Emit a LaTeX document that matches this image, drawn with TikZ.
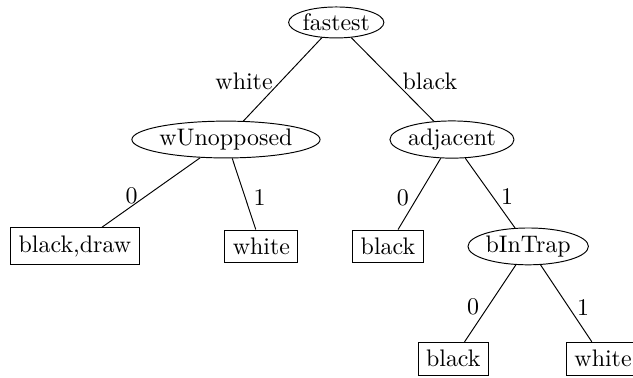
\documentclass[tikz,border=0pt]{standalone}
\usetikzlibrary{shapes.geometric}

\begin{document}
\begin{tikzpicture}[%
    test/.style={draw, ellipse, inner xsep=0pt, inner ysep=1pt},
    leaf/.style={draw, rectangle},
]
\useasboundingbox (0,0) rectangle (9.3,5.54);

% place the tests
\node[test] (fastest) at (4.94,5.21) {fastest};
\node[test] (wUnopposed) at (3.32,3.49) {wUnopposed};
\node[test] (adjacent) at (6.64,3.49) {adjacent};
\node[test] (bInTrap) at (7.76,1.92) {bInTrap};

% place the leaves
\node[leaf] (blackDraw) at (1.10,1.92) {black,draw};
\node[leaf] (whiteA) at (3.84,1.92) {white};
\node[leaf] (blackA) at (5.70,1.92) {black};
\node[leaf] (blackB) at (6.66,0.27) {black};
\node[leaf] (whiteB) at (8.86,0.27) {white};

% draw the branches and add their labels
\draw (fastest) -- (wUnopposed) node[pos=0.52,left] {white};
\draw (fastest) -- (adjacent) node[pos=0.52,right] {black};
\draw (wUnopposed) -- (blackDraw) node[pos=0.55,left] {0};
\draw (wUnopposed) -- (whiteA) node[pos=0.55,right] {1};
\draw (adjacent) -- (blackA) node[pos=0.55,left] {0};
\draw (adjacent) -- (bInTrap) node[pos=0.55,right] {1};
\draw (bInTrap) -- (blackB) node[pos=0.55,left] {0};
\draw (bInTrap) -- (whiteB) node[pos=0.55,right] {1};
\end{tikzpicture}
\end{document}
